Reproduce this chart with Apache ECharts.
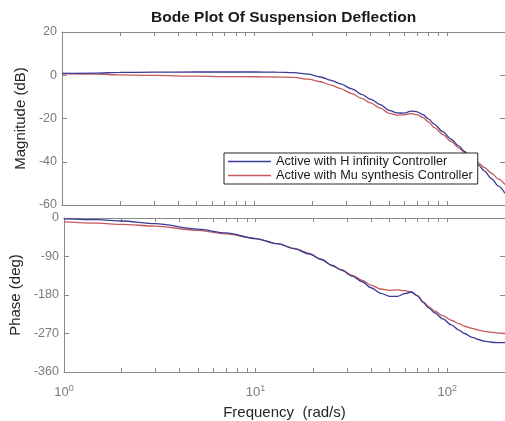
<!DOCTYPE html>
<html>
<head>
<meta charset="utf-8">
<script src="https://cdn.jsdelivr.net/npm/echarts@6/dist/echarts.min.js"></script>
<style>
  html, body { margin: 0; padding: 0; background: #fff; }
  #chart { width: 505px; height: 421px; }
</style>
</head>
<body>
<div id="chart"></div>
<script>
// frequency points (rad/s)
const freq = [1, 1.5, 2, 3, 5, 7, 10, 13, 16, 19, 22, 25, 28, 32, 36, 40, 45, 50, 55, 60,
  65, 70, 75, 80, 86, 95, 105, 115, 123, 135, 145, 156, 170, 185, 200];

// magnitude (dB)
const magHinf = [0.8, 1.0, 1.3, 1.4, 1.5, 1.5, 1.5, 1.4, 1.2, 0.5, -0.8, -2.4, -4.0, -6.3, -8.8, -11.0, -13.6, -16.2, -17.4, -17.5,
  -16.6, -16.9, -18.2, -20.2, -22.7, -26.1, -29.6, -32.7, -35.2, -38.6, -41.3, -44.2, -47.8, -51.3, -54.6];
const magMu = [0.8, 0.5, 0.2, -0.1, -0.4, -0.6, -0.7, -0.8, -1.0, -1.8, -3.0, -4.6, -6.2, -8.5, -10.7, -12.8, -15.2, -17.6, -18.4, -18.3,
  -17.7, -18.2, -19.6, -21.6, -24.2, -27.4, -30.6, -33.6, -35.6, -38.3, -40.4, -42.6, -45.3, -48.0, -50.5];

// phase (deg)
const phaseHinf = [-2, -4, -7, -13, -26, -35, -48, -60, -72, -84, -97, -111, -122, -136, -149, -163, -176, -183, -183, -177,
  -173, -182, -198, -210, -222, -236, -250, -262, -270, -279, -284, -288, -290.5, -291.5, -291.5];
const phaseMu = [-9, -12, -15, -19, -29, -37, -48, -60, -71, -83, -96, -110, -121, -134, -146, -157, -166, -169, -168, -170,
  -173, -182, -196, -207, -218, -229, -239, -247, -253, -258, -262, -265, -267, -269, -270];

const seriesNames = ['Active with H infinity Controller', 'Active with Mu synthesis Controller'];
const colors = ['#3a3a98', '#c65a5c'];

const decadeLabels = [1, 10, 100];
const xTicks = [1, 2, 3, 4, 5, 6, 7, 8, 9, 10, 20, 30, 40, 50, 60, 70, 80, 90, 100, 200];
const magTicks = [20, 0, -20, -40, -60];
const phaseTicks = [0, -90, -180, -270, -360];

const FONT = 'Liberation Sans, Arial, sans-serif';
const axisGray = '#8a8a8a';
const labelGray = '#7a7a7a';

const pairs = (ys) => freq.map((f, i) => [f, ys[i]]);

const xAxisBase = (gridIndex, position, showLabel) => ({
  type: 'log',
  logBase: 10,
  gridIndex,
  position,
  min: 1,
  max: 200,
  axisLine: { show: true, onZero: false, lineStyle: { color: axisGray, width: 1 } },
  axisTick: { show: true, inside: true, length: 4, customValues: xTicks, lineStyle: { color: axisGray } },
  splitLine: { show: false },
  minorTick: { show: false },
  axisLabel: {
    show: showLabel,
    customValues: decadeLabels,
    margin: 12,
    color: labelGray,
    fontFamily: FONT,
    formatter: (v) => '{b|10}{s|' + Math.round(Math.log10(v)) + '}',
    rich: {
      b: { fontSize: 13, color: labelGray, fontFamily: FONT, lineHeight: 16 },
      s: { fontSize: 9, color: labelGray, fontFamily: FONT, verticalAlign: 'top', lineHeight: 10 },
    },
  },
});

const yAxisBase = (gridIndex, position, ticks, showLabel) => ({
  type: 'value',
  gridIndex,
  position,
  min: ticks[ticks.length - 1],
  max: ticks[0],
  interval: ticks[0] - ticks[1],
  axisLine: { show: true, lineStyle: { color: axisGray, width: 1 } },
  axisTick: { show: true, inside: true, length: 5, lineStyle: { color: axisGray } },
  splitLine: { show: false },
  axisLabel: { show: showLabel, color: labelGray, fontSize: 12.5, fontFamily: FONT, margin: 5 },
});

const lineSeries = (name, xi, yi, ys, color, z) => ({
  name, type: 'line', xAxisIndex: xi, yAxisIndex: yi,
  data: pairs(ys), showSymbol: false, symbol: 'none', smooth: 0.3, smoothMonotone: 'x',
  lineStyle: { color, width: 1.3 }, itemStyle: { color }, z,
});

const chart = echarts.init(document.getElementById('chart'), null, { renderer: 'canvas' });

chart.setOption({
  animation: false,
  backgroundColor: '#fff',
  title: {
    text: 'Bode Plot Of Suspension Deflection',
    left: 146,
    top: 5,
    textStyle: { fontSize: 15.5, fontWeight: 'bold', color: '#1a1a1a', fontFamily: FONT },
  },
  legend: {
    left: 224,
    top: 153,
    orient: 'vertical',
    data: seriesNames.map((n) => ({ name: n, icon: 'rect' })),
    itemWidth: 43,
    itemHeight: 1.4,
    itemGap: 1,
    padding: [2, 5, 2, 4],
    borderColor: '#262626',
    borderWidth: 1,
    backgroundColor: '#fff',
    textStyle: { fontSize: 12.7, lineHeight: 13, color: '#1a1a1a', fontFamily: FONT },
  },
  grid: [
    { left: 62, right: -1, top: 32, height: 173 },
    { left: 62, right: -1, top: 218, height: 154 },
  ],
  xAxis: [
    xAxisBase(0, 'bottom', false),
    xAxisBase(0, 'top', false),
    Object.assign(xAxisBase(1, 'bottom', true), {
      name: 'Frequency  (rad/s)',
      nameLocation: 'middle',
      nameGap: 33,
      nameTextStyle: { fontSize: 15, color: '#262626', fontFamily: FONT },
    }),
    xAxisBase(1, 'top', false),
  ],
  yAxis: [
    Object.assign(yAxisBase(0, 'left', magTicks, true), {
      name: 'Magnitude (dB)',
      nameLocation: 'middle',
      nameGap: 30,
      nameTextStyle: { fontSize: 15, color: '#262626', fontFamily: FONT },
    }),
    yAxisBase(0, 'right', magTicks, false),
    Object.assign(yAxisBase(1, 'left', phaseTicks, true), {
      name: 'Phase (deg)',
      nameLocation: 'middle',
      nameGap: 38,
      nameTextStyle: { fontSize: 15, color: '#262626', fontFamily: FONT },
    }),
    yAxisBase(1, 'right', phaseTicks, false),
  ],
  series: [
    lineSeries(seriesNames[0], 0, 0, magHinf, colors[0], 3),
    lineSeries(seriesNames[1], 0, 0, magMu, colors[1], 2),
    lineSeries(seriesNames[0], 2, 2, phaseHinf, colors[0], 3),
    lineSeries(seriesNames[1], 2, 2, phaseMu, colors[1], 2),
  ],
});
</script>
</body>
</html>
